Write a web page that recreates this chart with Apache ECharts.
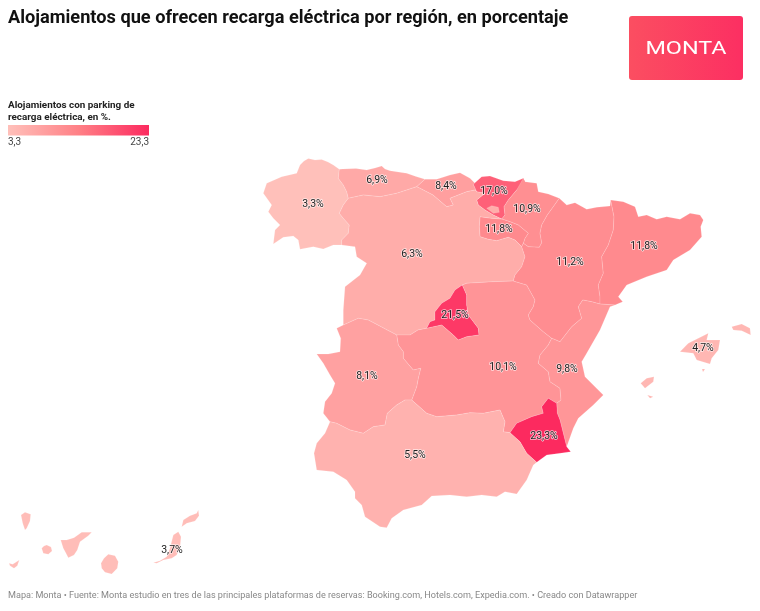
<!DOCTYPE html>
<html><head><meta charset="utf-8">
<style>html,body{margin:0;padding:0;background:#fff}#c{width:760px;height:611px}</style>
<script src="https://cdn.jsdelivr.net/npm/echarts@6/dist/echarts.min.js"></script>
</head><body><div id="c"></div>
<script>
const regionNames=['Galicia','Asturias','Cantabria','País Vasco','Navarra','La Rioja','Castilla y León','Madrid','Castilla-La Mancha','Aragón','Cataluña','Comunidad Valenciana','Murcia','Extremadura','Andalucía','Baleares','Canarias'];
const regionValues=[3.3,6.9,8.4,17.0,10.9,11.8,6.3,21.5,10.1,11.2,11.8,9.8,23.3,8.1,5.5,4.7,3.7];
const tickLabels=['3,3','23,3'];
const rampColors=['#FFC0BA','#FF8086','#FC2A5F'];
const labelAnchors=[[313,204],[377,180],[446,186],[494,191],[527,209],[499,229],[412,254],[455,315],[503,367],[570,262],[644,246],[567,369],[544,436],[367,376],[415,455],[703,348],[172,550]];

const galicia=[[[304,161],[308.3,158.5],[315,160],[321.7,159.5],[328,162],[333.3,165],[339.3,169.3],[338.3,178.3],[343.3,185],[346.7,191.7],[348.3,198.3],[343.3,205],[339.3,213.3],[343.3,218.3],[349.3,225],[348.3,233.3],[341.7,240],[341.7,245],[333.3,245],[323.3,249],[313.3,246.7],[300,249.3],[298.3,240],[293.3,236],[283.3,237.3],[273.3,244],[275,230],[280,225],[273.3,218.3],[268.3,211.7],[271.7,205],[263.3,193.3],[266.7,183.3],[281.7,176.7],[296.7,173.3],[300,165]]];
const asturias=[[[339.3,169.3],[343,169],[356,168.5],[366.7,170],[375,168],[381.7,166],[385,169],[390,170.7],[406.7,173.3],[416,176.5],[425,179.3],[416.7,186.7],[396.7,193.3],[380,196.7],[363.3,195],[348.3,198.3],[346.7,191.7],[343.3,185],[338.3,178.3]]];
const cantabria=[[[425,179.3],[436.7,179.3],[450,175],[460,172.7],[470,178.3],[475,183.3],[473.3,184.3],[476.7,191.7],[475,190],[466.7,191.7],[450,198.3],[453.3,205],[446.7,206.7],[433,195],[420,188.3],[416.7,186.7]]];
const paisVasco=[[[473.3,184.3],[481.7,176.7],[490,176],[503.3,180.7],[515,181.7],[523.3,178.3],[525,181.7],[516.7,190],[508.3,200],[504,206.7],[505,215],[501.7,219],[493.3,215],[485,210],[478.3,205],[476.7,200],[485,193.3],[476.7,191.7]]];
const navarra=[[[523.3,178.3],[525,181.7],[536.7,183.3],[538.3,191.7],[548.3,194],[559.3,198.3],[553.3,206.7],[547.3,215],[541.7,225],[540,233.3],[541.7,242.7],[539.3,247.3],[528.3,246.7],[523.3,243.3],[525,238.3],[528.3,233.3],[518.3,225],[510,221.7],[501.7,219],[505,215],[504,206.7],[508.3,200],[516.7,190]]];
const laRioja=[[[480,216.7],[491.7,218.3],[501.7,219],[510,221.7],[518.3,225],[528.3,233.3],[525,238.3],[523.3,243.3],[521.7,246.7],[515,240],[508.3,237.3],[496.7,240.7],[488.3,239.3],[480,236.7],[479.3,226.7]]];
const castillaLeon=[[[348.3,198.3],[363.3,195],[380,196.7],[396.7,193.3],[416.7,186.7],[420,188.3],[433,195],[446.7,206.7],[453.3,205],[450,198.3],[466.7,191.7],[475,190],[476.7,191.7],[485,193.3],[476.7,200],[478.3,205],[485,210],[493.3,215],[501.7,219],[491.7,218.3],[480,216.7],[479.3,226.7],[480,236.7],[488.3,239.3],[496.7,240.7],[508.3,237.3],[515,240],[521.7,246.7],[525,256.7],[521.7,266.7],[515,275],[513.3,281],[493,281.7],[466.7,283.3],[462.3,285],[455,290],[450,298.3],[441.7,303.3],[435,311.7],[435,320],[430,321.7],[426.7,328.3],[418,330],[410,335],[396.7,335],[368.3,320],[358.3,318.3],[343.3,325],[343.3,310],[345,286.7],[360,275],[366.7,263.3],[356.7,256.7],[355,246.7],[341.7,245],[341.7,240],[348.3,233.3],[349.3,225],[343.3,218.3],[339.3,213.3],[343.3,205]],[[486.7,208.3],[491.7,205.7],[498.3,207.3],[499.3,212.3],[493.3,213.3]]];
const madrid=[[[462.3,285],[466.7,295],[466.7,305],[468.3,315],[478.3,328.3],[479,335],[466.7,336.7],[458.3,340],[453.3,335],[441.7,325],[426.7,328.3],[430,321.7],[435,320],[435,311.7],[441.7,303.3],[450,298.3],[455,290]]];
const castillaMancha=[[[462.3,285],[466.7,283.3],[493,281.7],[513.3,281],[526.7,285],[535,300],[533.3,306.7],[528.3,315],[530,320],[543.3,331.7],[551.7,338.3],[548.3,345],[540,355],[538.3,363.3],[548.3,371.7],[550,381.7],[560,388.3],[561,400],[556.7,403.3],[548.3,398.3],[541.7,406.7],[543.3,413.3],[531.7,416.7],[516.7,423.3],[510,432.7],[503.3,431.7],[505,421.7],[500,410],[483.3,413.3],[470,412.7],[456.7,415],[436.7,416.7],[426.7,413.3],[411.7,400],[416.7,386.7],[418.3,378.3],[420.7,368.3],[413.3,370],[403.3,358.3],[403.3,351.7],[398.3,345],[396.7,335],[410,335],[418,330],[426.7,328.3],[441.7,325],[453.3,335],[458.3,340],[466.7,336.7],[479,335],[478.3,328.3],[468.3,315],[466.7,305],[466.7,295]]];
const aragon=[[[559.3,198.3],[566.7,205],[575,202.7],[586.7,209.3],[596.7,207.3],[610,206],[610.7,200],[614,216.7],[613.3,230],[608.3,245],[601.7,256.7],[603.3,273.3],[598.3,285],[600,296.7],[600,304],[591.7,301.7],[582.7,300],[578.3,306.7],[581.7,318.3],[571.7,326.7],[560,341.7],[551.7,338.3],[543.3,331.7],[530,320],[528.3,315],[533.3,306.7],[535,300],[526.7,285],[513.3,281],[515,275],[521.7,266.7],[525,256.7],[521.7,246.7],[523.3,243.3],[528.3,246.7],[539.3,247.3],[541.7,242.7],[540,233.3],[541.7,225],[547.3,215],[553.3,206.7]]];
const cataluna=[[[610.7,200],[623.3,201.7],[635,206.7],[638.3,216.7],[646.7,215],[656.7,219.3],[666.7,216.7],[680,219.3],[690,213.3],[700,215],[703.3,220],[700.7,226.7],[701.7,236.7],[690,250],[673.3,260],[666.7,270],[646.7,276.7],[626.7,285],[618.3,296.7],[622.7,301.7],[615,305],[600,304],[600,296.7],[598.3,285],[603.3,273.3],[601.7,256.7],[608.3,245],[613.3,230],[614,216.7]]];
const valencia=[[[600,304],[615,305],[610,306.7],[600,330],[586.7,353.3],[581.7,361.7],[585,376.7],[603.3,395],[593.3,405],[578.3,418.3],[573.3,428.3],[566.7,446.7],[563.3,433.3],[560,420],[557.3,413.3],[556.7,403.3],[561,400],[560,388.3],[550,381.7],[548.3,371.7],[538.3,363.3],[540,355],[548.3,345],[551.7,338.3],[560,341.7],[571.7,326.7],[581.7,318.3],[578.3,306.7],[582.7,300],[591.7,301.7]]];
const murcia=[[[548.3,398.3],[556.7,403.3],[557.3,413.3],[560,420],[563.3,433.3],[566.7,446.7],[570.7,451.7],[560,453.3],[546.7,455],[536.7,462.3],[526.7,453.3],[520,441.7],[510,432.7],[516.7,423.3],[531.7,416.7],[543.3,413.3],[541.7,406.7]]];
const extremadura=[[[343.3,325],[358.3,318.3],[368.3,320],[396.7,335],[398.3,345],[403.3,351.7],[403.3,358.3],[413.3,370],[420.7,368.3],[418.3,378.3],[416.7,386.7],[411.7,400],[405,400],[396.7,405],[387.3,413.3],[385,425],[373.3,426.7],[363.3,433.3],[350,430],[336.7,423.3],[330,421.7],[323.3,413.3],[325,401.7],[331.7,393.3],[335,383.3],[330,375],[323.3,363.3],[316.7,354],[328.3,354],[340,351.7],[340.7,338.3],[336.7,328.3]]];
const andalucia=[[[330,421.7],[336.7,423.3],[350,430],[363.3,433.3],[373.3,426.7],[385,425],[387.3,413.3],[396.7,405],[405,400],[411.7,400],[426.7,413.3],[436.7,416.7],[456.7,415],[470,412.7],[483.3,413.3],[500,410],[505,421.7],[503.3,431.7],[510,432.7],[520,441.7],[526.7,453.3],[536.7,462.3],[533.3,465],[526.7,480],[516.7,494],[505,491.7],[496.7,496.7],[481.7,495],[466.7,496.7],[450,495],[431.7,496],[421.7,505],[403.3,510],[391.7,518.3],[386.7,527.7],[380,526.7],[365,516.7],[361.7,505],[355,498.3],[355,491.7],[346.7,480],[333.3,471.7],[316.7,470],[314,453.3],[316.7,443.3],[325,433.3]]];
const baleares=[[[680,351.7],[688.3,343.3],[698.3,338.3],[708.3,333.3],[706.7,340],[720,340],[718.3,350],[711.7,358.3],[710,364],[696.7,360],[693.3,353.3]],[[731.7,326.7],[741.7,324],[750,328.3],[750.7,335],[741.7,330.7],[733.3,330]],[[640.7,383.3],[646.7,378.3],[654,376.7],[653.3,381.7],[645,388.3]],[[647.3,395],[653.3,396.7],[650,398.3]],[[702,369],[705,369],[703,372]]];
const canarias=[[[21,515],[25,512.3],[30.7,514.3],[30,521],[26.7,528.3],[25,530],[22.7,523.3]],[[41.7,548.3],[44,546],[46.7,545],[51,547],[52,551],[48.3,554.3],[43.3,553.3]],[[9,563.3],[12.7,564.3],[19.3,560],[17.3,565.7],[14,568.3],[10,565.7]],[[60.7,540],[66.7,540],[74,537.7],[81.7,532.3],[91.7,532.3],[88.3,535.7],[80,541.7],[77.3,550],[74,555],[68.3,557.7],[66,553.3],[63.3,548.3]],[[101,563.3],[104,558.3],[108.3,554.3],[115,555.7],[118.3,561.7],[117.3,568.3],[111.7,574],[105,572.3],[101.7,568.3]],[[153.3,562.7],[160,560.7],[166.7,556.7],[170,548.3],[173.3,535],[178.3,531.7],[181,536.7],[180,548.3],[176.7,555],[171.7,558.3],[163.3,560],[156.7,563.3]],[[181.7,526.7],[183.3,520],[190,515.7],[196.7,513.3],[198.3,510],[199,515.7],[195,521],[186.7,523.3]]];
const shapes=[galicia,asturias,cantabria,paisVasco,navarra,laRioja,castillaLeon,madrid,castillaMancha,aragon,cataluna,valencia,murcia,extremadura,andalucia,baleares,canarias];

const flip=p=>[p[0],-p[1]];
const closeRing=r=>{const q=r.map(flip);q.push(q[0]);return q;};
const features=regionNames.map((name,i)=>({type:'Feature',properties:{name,cp:flip(labelAnchors[i])},
  geometry:{type:'MultiPolygon',coordinates:shapes[i].map(r=>[closeRing(r)])}}));
echarts.registerMap('es',{type:'FeatureCollection',features});
const all=shapes.flat(2);
const xs=all.map(p=>p[0]),ys=all.map(p=>p[1]);
const minX=Math.min(...xs),maxX=Math.max(...xs),minY=Math.min(...ys),maxY=Math.max(...ys);

const chart=echarts.init(document.getElementById('c'),null,{renderer:'canvas'});
const F='Roboto, sans-serif';
chart.setOption({
  animation:false,backgroundColor:'#fff',
  title:[
    {text:'Alojamientos que ofrecen recarga eléctrica por región, en porcentaje',left:8,top:9,padding:0,textStyle:{fontFamily:F,fontSize:18.2,fontWeight:700,color:'#111'}},
    {text:'Alojamientos con parking de\nrecarga eléctrica, en %.',left:8,top:99,padding:0,textStyle:{fontFamily:F,fontSize:9.9,fontWeight:700,color:'#222',lineHeight:12.5}},
    {text:tickLabels[0],left:8,top:137,padding:0,textStyle:{fontFamily:F,fontSize:10,fontWeight:400,color:'#444'}},
    {text:tickLabels[1],right:611,top:137,padding:0,textStyle:{fontFamily:F,fontSize:10,fontWeight:400,color:'#444'}},
    {text:'Mapa: Monta • Fuente: Monta estudio en tres de las principales plataformas de reservas: Booking.com, Hotels.com, Expedia.com. • Creado con Datawrapper',left:8,top:591,padding:0,textStyle:{fontFamily:F,fontSize:9.1,fontWeight:400,color:'#888'}}
  ],
  visualMap:{type:'continuous',show:false,min:3.3,max:23.3,inRange:{color:rampColors},seriesIndex:0},
  series:[{type:'map',map:'es',aspectScale:1,roam:false,silent:true,selectedMode:false,
    left:minX,top:minY,width:maxX-minX,height:maxY-minY,
    data:regionNames.map((name,i)=>({name,value:regionValues[i]})),
    itemStyle:{borderColor:'rgba(255,255,255,0.3)',borderWidth:0.5},
    label:{show:true,fontFamily:F,fontSize:10.5,color:'#222',textBorderColor:'rgba(255,255,255,0.7)',textBorderWidth:1.5,
      formatter:p=>p.value.toFixed(1).replace('.',',')+'%'},
    emphasis:{disabled:true}
  }],
  graphic:[
    {type:'rect',x:8,y:125,shape:{width:141,height:10.5},silent:true,
      style:{fill:new echarts.graphic.LinearGradient(0,0,1,0,rampColors.map((color,i)=>({offset:i/(rampColors.length-1),color})))}},
    {type:'group',x:629,y:16,children:[
    {type:'rect',shape:{x:0,y:0,width:114,height:64,r:3},style:{fill:new echarts.graphic.LinearGradient(0,0,1,0,[{offset:0,color:'#FB4E61'},{offset:1,color:'#FC2F62'}])}},
    {type:'text',x:57,y:33,scaleX:1.3,style:{text:'MONTA',fill:'#fff',font:'400 18px '+F,align:'center',verticalAlign:'middle'}}
  ]}]
});
</script></body></html>
